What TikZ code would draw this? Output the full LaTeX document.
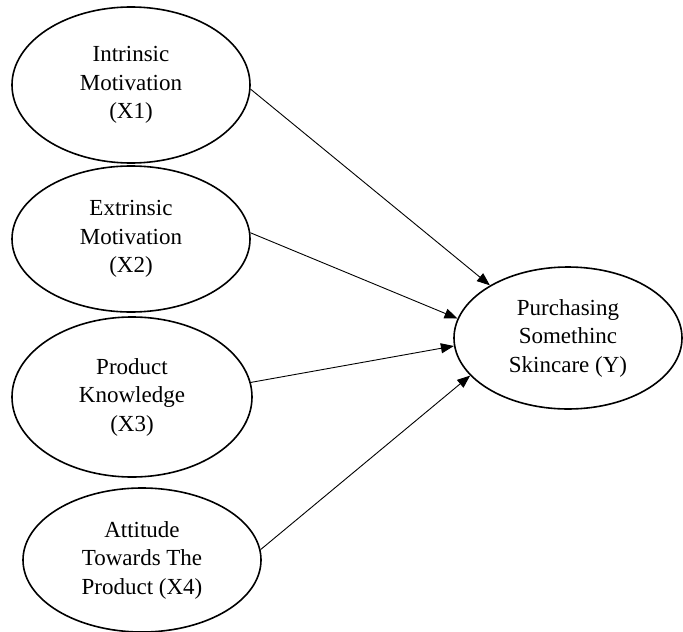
\documentclass[tikz,border=0pt]{standalone}
\usepackage{fontspec}
\setmainfont{Liberation Serif}
\usetikzlibrary{shapes.geometric,arrows.meta}
\begin{document}
\begin{tikzpicture}[x=1pt,y=-1pt,
  var/.style={draw=black, ellipse, line width=1.6pt, inner sep=0pt, align=center,
    font=\fontsize{23}{28.5}\selectfont},
  link/.style={draw=black, line width=0.9pt, -{Triangle[length=13pt,width=10pt]}}]
\useasboundingbox (0,0) rectangle (683,632);
\node[var, minimum width=238pt, minimum height=156pt] (x1) at (131,85) {Intrinsic\\Motivation\\(X1)};
\node[var, minimum width=238pt, minimum height=146pt] (x2) at (131,239) {Extrinsic\\Motivation\\(X2)};
\node[var, minimum width=240pt, minimum height=160pt] (x3) at (132,397) {Product\\Knowledge\\(X3)};
\node[var, minimum width=238pt, minimum height=144pt] (x4) at (142,560) {Attitude\\Towards The\\Product (X4)};
\node[var, minimum width=228pt, minimum height=142pt] (y) at (568,338) {Purchasing\\Somethinc\\Skincare (Y)};
\draw[link] (x1.-2.4) -- (y.146);
\draw[link] (x2.3.3) -- (y.170.2);
\draw[link] (x3.7) -- (y.-176.5);
\draw[link] (x4.5.8) -- (y.-159);
\end{tikzpicture}
\end{document}
